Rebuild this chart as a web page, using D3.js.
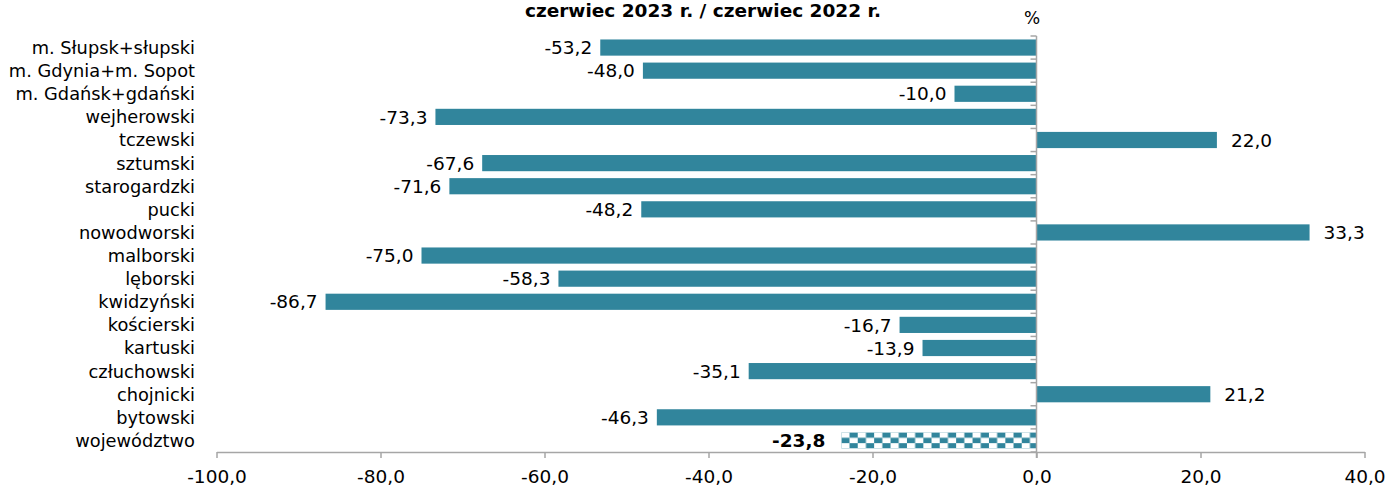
<!DOCTYPE html>
<html lang="pl">
<head>
    <meta charset="utf-8">
    <style>
        body {
            margin: 0;
            padding: 0;
            background: #ffffff;
            font-family: "DejaVu Sans", sans-serif;
        }
        .axis path, .axis line {
            stroke: #a6a6a6;
            stroke-width: 1.5;
        }
    </style>
</head>
<body>
<script src="https://cdn.jsdelivr.net/npm/d3@7"></script>
<script>
(function() {
    var width = 1389;
    var height = 492;

    var categories = ['m. Słupsk+słupski', 'm. Gdynia+m. Sopot', 'm. Gdańsk+gdański',
        'wejherowski', 'tczewski', 'sztumski', 'starogardzki', 'pucki', 'nowodworski',
        'malborski', 'lęborski', 'kwidzyński', 'kościerski', 'kartuski', 'człuchowski',
        'chojnicki', 'bytowski', 'województwo'];
    var values = [-53.2, -48.0, -10.0, -73.3, 22.0, -67.6, -71.6, -48.2, 33.3,
        -75.0, -58.3, -86.7, -16.7, -13.9, -35.1, 21.2, -46.3, -23.8];
    var xTicks = [-100, -80, -60, -40, -20, 0, 20, 40];
    var title = 'czerwiec 2023 r. / czerwiec 2022 r.';

    var teal = '#31859c';
    var fmt = function (v) { return v.toFixed(1).replace('.', ','); };

    var svg = d3.select('body')
        .append('svg')
        .attr('width', width)
        .attr('height', height);

    // checkerboard for the voivodeship total
    var pat = svg.append('defs').append('pattern')
        .attr('id', 'checker')
        .attr('patternUnits', 'userSpaceOnUse')
        .attr('width', 16.4)
        .attr('height', 10.8);
    pat.append('rect').attr('x', 8.2).attr('y', 0).attr('width', 8.2).attr('height', 5.4).attr('fill', teal);
    pat.append('rect').attr('x', 0).attr('y', 5.4).attr('width', 8.2).attr('height', 5.4).attr('fill', teal);

    var x = d3.scaleLinear()
        .domain([-100, 40])
        .range([216.5, 1364.5]);

    var y = d3.scaleBand()
        .domain(categories)
        .range([36, 452])
        .paddingInner(0.3)
        .paddingOuter(0.15);

    // title at the very top
    svg.append('text')
        .attr('x', 703)
        .attr('y', 17)
        .attr('text-anchor', 'middle')
        .style('font-weight', 'bold')
        .style('font-size', '18.5px')
        .text(title);

    svg.append('text')
        .attr('x', 1032)
        .attr('y', 24)
        .attr('text-anchor', 'middle')
        .style('font-size', '17px')
        .text('%');

    var last = categories[categories.length - 1];

    svg.selectAll('rect.bar')
        .data(values)
        .enter()
        .append('rect')
        .attr('class', 'bar')
        .attr('x', function (d) { return x(Math.min(0, d)); })
        .attr('y', function (d, i) { return y(categories[i]); })
        .attr('width', function (d) { return Math.abs(x(d) - x(0)); })
        .attr('height', y.bandwidth())
        .attr('fill', function (d, i) { return categories[i] === last ? 'url(#checker)' : teal; })
        .each(function (d, i) {
            if (categories[i] === last) {
                pat.attr('x', x(Math.min(0, d))).attr('y', y(categories[i]));
            }
        });

    // value labels
    svg.selectAll('text.val')
        .data(values)
        .enter()
        .append('text')
        .attr('class', 'val')
        .attr('x', function (d, i) {
            if (categories[i] === last) return x(d) - 16;
            return d < 0 ? x(d) - 8 : x(d) + 14;
        })
        .attr('y', function (d, i) { return y(categories[i]) + y.bandwidth() / 2; })
        .attr('dy', '0.36em')
        .attr('text-anchor', function (d) { return d < 0 ? 'end' : 'start'; })
        .style('font-size', '18.5px')
        .style('font-weight', function (d, i) { return categories[i] === last ? 'bold' : 'normal'; })
        .text(function (d) { return fmt(d); });

    // category labels
    svg.selectAll('text.cat')
        .data(categories)
        .enter()
        .append('text')
        .attr('class', 'cat')
        .attr('x', 195)
        .attr('y', function (d) { return y(d) + y.bandwidth() / 2; })
        .attr('dy', '0.36em')
        .attr('text-anchor', 'end')
        .style('font-size', '17.8px')
        .text(function (d) { return d; });

    // x axis
    var xAxis = svg.append('g')
        .attr('class', 'axis')
        .attr('transform', 'translate(0,452)')
        .call(d3.axisBottom(x).tickValues(xTicks).tickSize(6).tickSizeOuter(0).tickFormat(fmt));
    xAxis.selectAll('text')
        .attr('y', 18)
        .style('font-family', '"DejaVu Sans", sans-serif')
        .style('font-size', '18.5px')
        .attr('fill', '#000');

    // vertical axis at zero with ticks between categories
    var yAxis = svg.append('g').attr('class', 'axis');
    yAxis.append('line')
        .attr('x1', x(0)).attr('x2', x(0))
        .attr('y1', 36).attr('y2', 458);
    yAxis.selectAll('line.tk')
        .data(d3.range(categories.length + 1))
        .enter()
        .append('line')
        .attr('class', 'tk')
        .attr('x1', x(0) - 6).attr('x2', x(0))
        .attr('y1', function (i) { return 36 + i * y.step(); })
        .attr('y2', function (i) { return 36 + i * y.step(); });
})();
</script>
</body>
</html>
